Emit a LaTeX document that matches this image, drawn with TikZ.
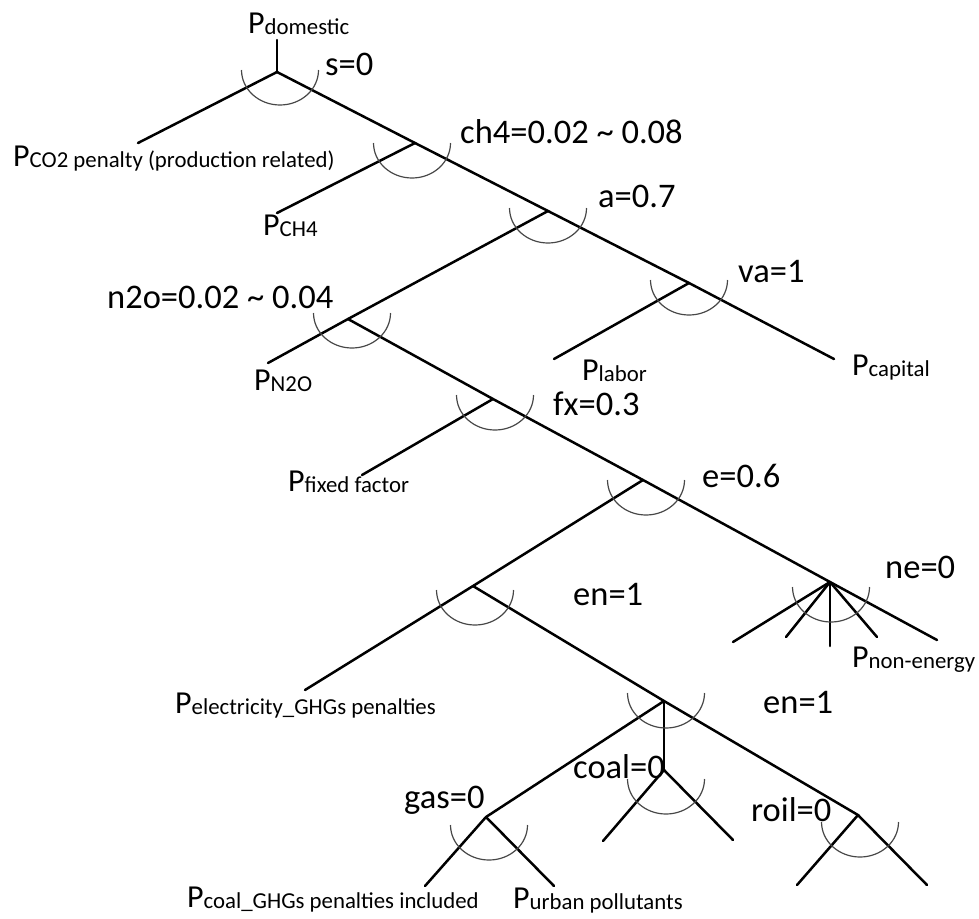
\documentclass[tikz,border=0pt]{standalone}
\usepackage{fontspec}
\setmainfont{Carlito}
\tikzset{
  br/.style={line width=2.5pt, black, line cap=round},
  sarc/.style={line width=1.2pt, black!72},
  lab/.style={anchor=base west, inner sep=0pt, font=\fontsize{34.5}{36}\selectfont},
  plab/.style={anchor=base west, inner sep=0pt, font=\fontsize{32}{36}\selectfont},
}
\newcommand\Psub[1]{P{\fontsize{22.8}{24}\selectfont\raisebox{-1.5pt}{#1}}}
\newcommand\sarcat[2]{\draw[sarc] (#1-38.5,#2) arc[start angle=180,end angle=360,x radius=38.5pt,y radius=35pt];}
\begin{document}
\begin{tikzpicture}[x=1pt,y=-1pt]
\useasboundingbox (0,0) rectangle (979,918);
% junctions and ends
\coordinate (top) at (277,40);
\coordinate (R0) at (277,72);
\coordinate (co2end) at (138,143);
\coordinate (Jch4) at (415,143);
\coordinate (ch4end) at (277,213);
\coordinate (Ja) at (548,211);
\coordinate (Jva) at (689,283);
\coordinate (capend) at (834,359);
\coordinate (laborend) at (554,359);
\coordinate (Jn2o) at (348,319);
\coordinate (n2oend) at (268,363);
\coordinate (Jfx) at (493,399);
\coordinate (fxend) at (362,475);
\coordinate (Je) at (643,480);
\coordinate (Jne) at (830,582);
\coordinate (ne1) at (733,642);
\coordinate (ne2) at (786,637);
\coordinate (ne3) at (830,646);
\coordinate (ne4) at (877,637);
\coordinate (ne5) at (937,640);
\coordinate (Jen) at (473,586);
\coordinate (elecend) at (305,690);
\coordinate (Jen2) at (664,701);
\coordinate (Jroil) at (858,815);
\coordinate (roilL) at (797,885);
\coordinate (roilR) at (927,885);
\coordinate (Jgas) at (486,817);
\coordinate (gasL) at (425,886);
\coordinate (gasR) at (554,886);
\coordinate (Jcoal) at (664,770);
\coordinate (coalL) at (603,841);
\coordinate (coalR) at (733,840);
% branches
\draw[br] (top) -- (R0);
\draw[br] (R0) -- (co2end);
\draw[br] (R0) -- (Jch4) -- (Ja) -- (Jva) -- (capend);
\draw[br] (Jch4) -- (ch4end);
\draw[br] (Jva) -- (laborend);
\draw[br] (Ja) -- (Jn2o) -- (n2oend);
\draw[br] (Jn2o) -- (Jfx) -- (Je) -- (Jne) -- (ne5);
\draw[br] (Jfx) -- (fxend);
\draw[br] (Jne) -- (ne1);
\draw[br] (Jne) -- (ne2);
\draw[br] (Jne) -- (ne3);
\draw[br] (Jne) -- (ne4);
\draw[br] (Je) -- (Jen) -- (elecend);
\draw[br] (Jen) -- (Jen2) -- (Jroil);
\draw[br] (Jroil) -- (roilL);
\draw[br] (Jroil) -- (roilR);
\draw[br] (Jen2) -- (Jgas);
\draw[br] (Jgas) -- (gasL);
\draw[br] (Jgas) -- (gasR);
\draw[br] (Jen2) -- (Jcoal);
\draw[br] (Jcoal) -- (coalL);
\draw[br] (Jcoal) -- (coalR);
% substitution arcs
\sarcat{280}{70}
\sarcat{412}{143}
\sarcat{548}{208}
\sarcat{689}{280}
\sarcat{352}{313}
\sarcat{495}{395}
\sarcat{646}{480}
\sarcat{475}{590}
\sarcat{831}{587}
\sarcat{666}{693}
\sarcat{666}{779}
\sarcat{489}{825}
\sarcat{860}{822}
% labels
\node[plab] (pdom) at (248,33) {\Psub{domestic}};
\node[lab] (s) at (325,75) {s=0};
\node[plab] (pco2) at (13,166) {\Psub{CO2 penalty (production related)}};
\node[lab] (ch4) at (460,143) {ch4=0.02 \textasciitilde{} 0.08};
\node[plab] (pch4) at (263,235) {\Psub{CH4}};
\node[lab] (a) at (598,207) {a=0.7};
\node[lab] (n2o) at (107,308) {n2o=0.02 \textasciitilde{} 0.04};
\node[plab] (pn2o) at (254,390) {\Psub{N2O}};
\node[lab] (va) at (738,282) {va=1};
\node[plab] (plabor) at (582,380) {\Psub{labor}};
\node[plab] (pcap) at (852,375) {\Psub{capital}};
\node[lab] (fx) at (553,415) {fx=0.3};
\node[plab] (pfix) at (288,491) {\Psub{fixed factor}};
\node[lab] (e) at (702,487) {e=0.6};
\node[lab] (en1) at (573,605) {en=1};
\node[lab] (ne) at (885,578) {ne=0};
\node[plab] (pne) at (852,667) {\Psub{non-energy}};
\node[plab] (pel) at (175,713) {\Psub{electricity\_GHGs penalties}};
\node[lab] (en2) at (763,713) {en=1};
\node[lab] (coal) at (573,778) {coal=0};
\node[lab] (gas) at (404,808) {gas=0};
\node[lab] (roil) at (751,821) {roil=0};
\node[plab] (pcoal) at (187,907) {\Psub{coal\_GHGs penalties included}};
\node[plab] (purb) at (513,908) {\Psub{urban pollutants}};
\end{tikzpicture}
\end{document}
